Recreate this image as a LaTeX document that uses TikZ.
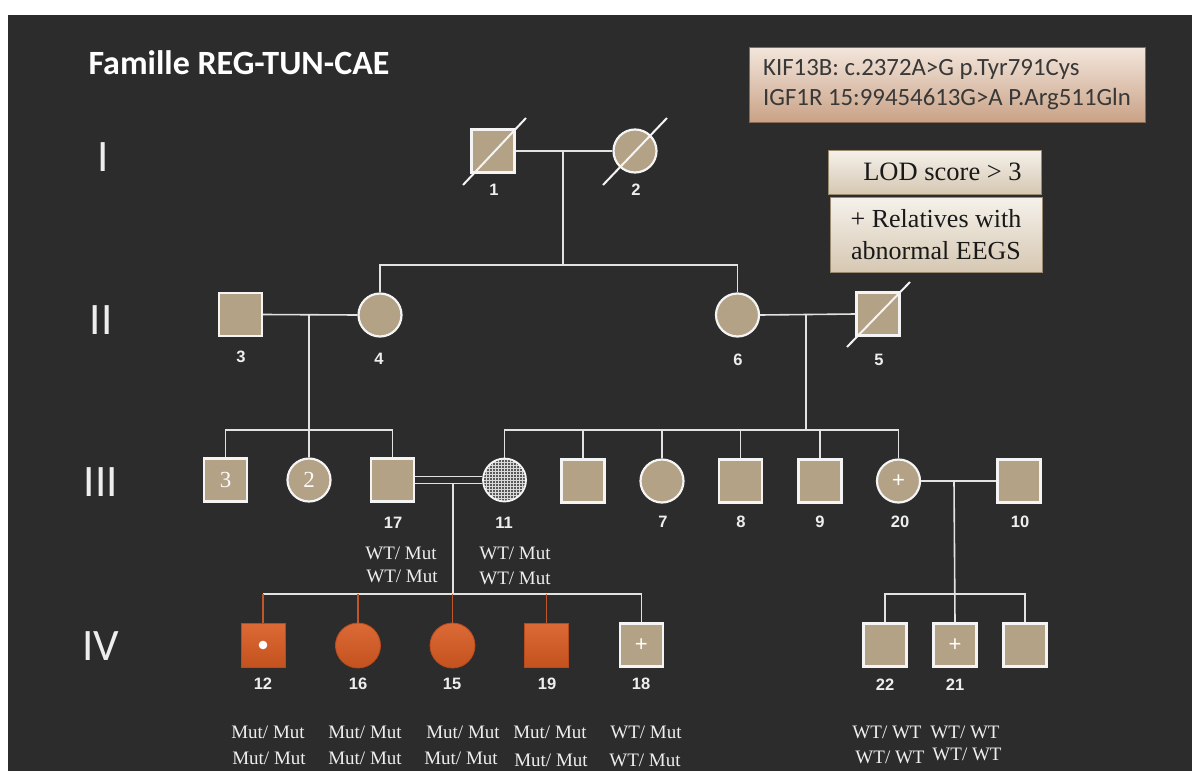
\documentclass[tikz,border=0pt]{standalone}
\usepackage{fontspec}
\setmainfont{Liberation Serif}
\newfontfamily\calfont{Carlito}
\newfontfamily\arialfont{Liberation Sans}
\usetikzlibrary{patterns,calc}
\definecolor{bg}{HTML}{2C2C2C}
\definecolor{tan}{HTML}{B3A285}
\definecolor{edge}{HTML}{F4F4F4}
\definecolor{linec}{HTML}{E2E2E2}
\definecolor{orangeT}{HTML}{DC6A36}
\definecolor{orangeB}{HTML}{C4521F}
\definecolor{orangeE}{HTML}{B84A1E}
\definecolor{affline}{HTML}{C0562A}
\definecolor{txt}{HTML}{EEEEEE}
\definecolor{geneT}{HTML}{F3E6DC}
\definecolor{geneB}{HTML}{C9A286}
\definecolor{geneE}{HTML}{8A6A50}
\definecolor{lodT}{HTML}{F5F1EB}
\definecolor{lodB}{HTML}{D6C8B2}
\definecolor{lodE}{HTML}{9A8A70}
\begin{document}
\begin{tikzpicture}[x=1pt,y=-1pt,
  male/.style={rectangle, draw=edge, line width=2.2pt, fill=tan, minimum size=43pt, inner sep=0pt},
  female/.style={circle, draw=edge, line width=2.2pt, fill=tan, minimum size=43pt, inner sep=0pt},
  hatched/.style={circle, draw=edge, line width=1.8pt, minimum size=43pt, inner sep=0pt,
    preaction={fill=black!65}, pattern=grid, pattern color=white!85!black},
  affm/.style={rectangle, draw=orangeE, line width=0.8pt, top color=orangeT, bottom color=orangeB, minimum size=44pt, inner sep=0pt},
  afff/.style={circle, draw=orangeE, line width=0.8pt, top color=orangeT, bottom color=orangeB, minimum size=45pt, inner sep=0pt},
  conn/.style={draw=linec, line width=1.6pt},
  affl/.style={draw=affline, line width=1.3pt},
  slash/.style={draw=edge, line width=2pt},
  num/.style={font=\arialfont\bfseries\fontsize{16.5}{18}\selectfont, text=txt},
  geno/.style={font=\fontsize{19}{21}\selectfont, text=txt},
  gen/.style={font=\calfont\fontsize{45}{48}\selectfont, text=txt},
  inner/.style={font=\fontsize{23}{23}\selectfont, text=white!95!tan},
  plus/.style={font=\arialfont\fontsize{22}{22}\selectfont, text=white},
]
\useasboundingbox (0,0) rectangle (1192,771);
\fill[white] (0,0) rectangle (1192,771);
\fill[bg] (8,15) rectangle (1192,771);

% title
\node[font=\calfont\bfseries\fontsize{34}{38}\selectfont, text=white, anchor=west] (title) at (85,63) {Famille REG-TUN-CAE};

% info boxes
\node[draw=geneE, line width=0.8pt, top color=geneT, bottom color=geneB,
  minimum width=396pt, minimum height=75pt, align=left, text=black!78,
  font=\calfont\fontsize{24.8}{30}\selectfont] (gene) at (947,84.5)
  {KIF13B: c.2372A>G p.Tyr791Cys\\IGF1R 15:99454613G>A P.Arg511Gln};
\node[draw=lodE, line width=0.8pt, top color=lodT, bottom color=lodB,
  minimum width=213pt, minimum height=44pt, text=black!90,
  font=\fontsize{26.5}{30}\selectfont] (lod) at (934.5,172) {\hspace{16pt}LOD score > 3};
\node[draw=lodE, line width=0.8pt, top color=lodT, bottom color=lodB,
  minimum width=212pt, minimum height=75pt, align=center, text=black!90,
  font=\fontsize{26}{32}\selectfont] (rel) at (936,234.5) {+ Relatives with\\abnormal EEGS};

% generation labels
\node[gen] (gI) at (103,157) {I};
\node[gen] (gII) at (101,320) {II};
\node[gen] (gIII) at (101,482) {III};
\node[gen] (gIV) at (101,646) {IV};

% helper coordinates
\coordinate (sibII) at (0,265);
\coordinate (sibIII) at (0,430);
\coordinate (sibIV) at (0,594);

% ---------- Generation I
\node[male] (i1) at (493,151) {};
\node[female] (i2) at (635,151) {};
\draw[slash] ($(i1)+(-30,34)$) -- ($(i1)+(33,-33)$);
\draw[slash] ($(i2)+(-32,34)$) -- ($(i2)+(32,-33)$);
\node[num] (l1) at (494,190) {1};
\node[num] (l2) at (636,190) {2};
\draw[conn] (i1.east) -- (i2.west);
\coordinate (m1) at (563,151);

% ---------- Generation II
\node[male] (ii3) at (240.5,314.5) {};
\node[female] (ii4) at (380,315) {};
\node[female] (ii6) at (737.5,315) {};
\node[male] (ii5) at (878,314) {};
\draw[slash] ($(ii5)+(-31,33)$) -- ($(ii5)+(32,-32)$);
\node[num] (l3) at (241,357) {3};
\node[num] (l4) at (379,359) {4};
\node[num] (l6) at (738,360) {6};
\node[num] (l5) at (879,360) {5};
\draw[conn] (m1) -- (m1 |- sibII);
\draw[conn] (ii4.north) -- (ii4.north |- sibII) -- (ii6.north |- sibII) -- (ii6.north);
\draw[conn] (ii3.east) -- (ii4.west);
\draw[conn] (ii6.east) -- (ii5.west);
\coordinate (m2) at (309,314);
\coordinate (m3) at (806,314);

% ---------- Generation III
\node[male] (iiia) at (225.5,480) {};
\node[inner] at (iiia) {3};
\node[female] (iiib) at (309,480) {};
\node[inner] at (iiib) {2};
\node[male] (iii17) at (392.5,480) {};
\node[hatched] (iii11) at (504.5,480) {};
\node[male] (iiic) at (583,481) {};
\node[female] (iii7) at (662,481) {};
\node[male] (iii8) at (740.5,481) {};
\node[male] (iii9) at (820,481) {};
\node[female] (iii20) at (898.5,481) {};
\node[plus] at (iii20) {+};
\node[male] (iii10) at (1019,481) {};
\node[num] (l17) at (393,523) {17};
\node[num] (l11) at (504,523) {11};
\node[num] (l7) at (663,522) {7};
\node[num] (l8) at (741,522) {8};
\node[num] (l9) at (820,522) {9};
\node[num] (l20) at (900,522) {20};
\node[num] (l10) at (1020,522) {10};

\draw[conn] (m2) -- (iiib.north);
\draw[conn] (iiia.north) -- (iiia.north |- sibIII) -- (iii17.north |- sibIII) -- (iii17.north);
\draw[conn] (m3) -- (m3 |- sibIII);
\draw[conn] (iii11.north) -- (iii11.north |- sibIII) -- (iii20.north |- sibIII) -- (iii20.north);
\foreach \n in {iiic,iii7,iii8,iii9} \draw[conn] (\n.north) -- (\n.north |- sibIII);
\draw[conn] ($(iii17.east)+(0,-3.6)$) -- ($(iii11.west)+(0,-3.6)$);
\draw[conn] ($(iii17.east)+(0,3.6)$) -- ($(iii11.west)+(0,3.6)$);
\coordinate (m4) at (452.7,483.6);
\draw[conn] (iii20.east) -- (iii10.west);
\coordinate (m5) at (954,481);

\node[geno] (g17a) at (401,553) {WT/ Mut};
\node[geno] (g17b) at (402,576) {WT/ Mut};
\node[geno] (g11a) at (515,553) {WT/ Mut};
\node[geno] (g11b) at (515,578) {WT/ Mut};

% ---------- Generation IV
\node[affm] (iv12) at (263,645) {};
\fill[white] (iv12.center) circle (4.3);
\node[afff] (iv16) at (358,645.5) {};
\node[afff] (iv15) at (452.5,645.5) {};
\node[affm] (iv19) at (546.7,645) {};
\node[male] (iv18) at (641.3,645) {};
\node[plus] at (iv18) {+};
\node[male] (iv22) at (885,645) {};
\node[male] (iv21) at (955,645) {};
\node[plus] at (iv21) {+};
\node[male] (iv23) at (1025,645) {};

\draw[conn] (m4) -- (m4 |- sibIV);
\draw[conn] (iv12.north |- sibIV) -- (iv18.north |- sibIV) -- (iv18.north);
\foreach \n in {iv12,iv16,iv15,iv19} \draw[affl] (\n.north |- sibIV) -- (\n.north);
\draw[conn] (m5) -- (iv21.north);
\draw[conn] (iv22.north) -- (iv22.north |- sibIV) -- (iv23.north |- sibIV) -- (iv23.north);

\node[num] (l12) at (263,684) {12};
\node[num] (l16) at (358,684) {16};
\node[num] (l15) at (452,684) {15};
\node[num] (l19) at (547,684) {19};
\node[num] (l18) at (641,684) {18};
\node[num] (l22) at (885,685) {22};
\node[num] (l21) at (955,685) {21};

\node[geno] at (268,732) {Mut/ Mut};
\node[geno] at (365,732) {Mut/ Mut};
\node[geno] at (463,732) {Mut/ Mut};
\node[geno] at (550,732) {Mut/ Mut};
\node[geno] at (646,732) {WT/ Mut};
\node[geno] at (269,758) {Mut/ Mut};
\node[geno] at (365,758) {Mut/ Mut};
\node[geno] at (461,758) {Mut/ Mut};
\node[geno] at (551,760) {Mut/ Mut};
\node[geno] at (645,760) {WT/ Mut};
\node[geno] at (887,732) {WT/ WT};
\node[geno] at (965,732) {WT/ WT};
\node[geno] at (890,757) {WT/ WT};
\node[geno] at (967,754) {WT/ WT};
\end{tikzpicture}
\end{document}
